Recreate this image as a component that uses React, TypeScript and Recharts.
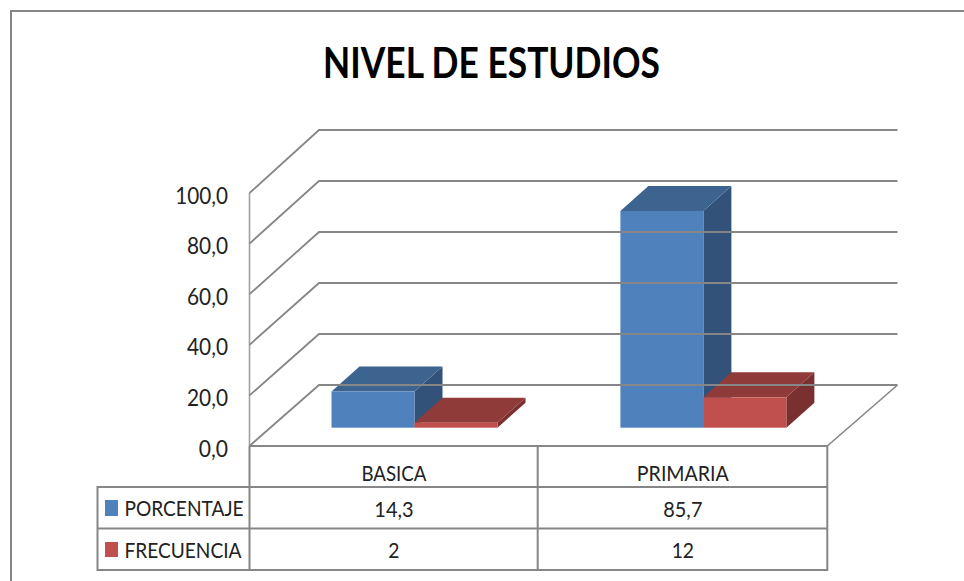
import React from 'react';
import { BarChart, Bar, XAxis, YAxis } from 'recharts';

const title = 'NIVEL DE ESTUDIOS';
const categories = ['BASICA', 'PRIMARIA'];
const categoryWidths = [65, 92];
const porcentaje = [14.3, 85.7];
const frecuencia = [2, 12];
const yTicks = [0, 20, 40, 60, 80, 100];
const seriesNames = ['PORCENTAJE', 'FRECUENCIA'];

const rows = categories.map((c, i) => ({ name: c, porcentaje: porcentaje[i], frecuencia: frecuencia[i] }));

const FONT = 'Lato, "Open Sans", sans-serif';
const GRID = '#868686';
const INK = '#222222';

const LEFT = 249.5, RIGHT = 827.3, TOP = 193, FLOOR = 446;
const WALL_X = 319, WALL_RIGHT = 897.5;
const ROW1 = 487, ROW2 = 528.5, ROW3 = 570, TABLE_LEFT = 97.5, COL_MID = 537.7;

const comma = (v: number) => v.toFixed(1).replace('.', ',');
const numWidth = (s: string, digit: number) =>
  s.includes(',') ? (s.length - 1) * digit + digit / 2 : s.length * digit;

const YTick = (props: any) => {
  const { y, payload } = props;
  const backY = y - 61 - (FLOOR - y) * 0.008;
  const label = comma(payload.value);
  return (
    <g>
      <path d={`M${LEFT} ${y} L${WALL_X} ${backY} L${WALL_RIGHT} ${backY}`} fill="none" stroke={GRID} strokeWidth={1.8} />
      <text x={228} y={y + 10.5} textAnchor="end" fontFamily={FONT} fontSize={23} fill={INK}
        textLength={numWidth(label, 11.7)} lengthAdjust="spacingAndGlyphs">
        {label}
      </text>
    </g>
  );
};

const XTick = (props: any) => {
  const { x, payload } = props;
  const i = categories.indexOf(payload.value);
  const common = { x, textAnchor: 'middle' as const, fontFamily: FONT, fill: INK, lengthAdjust: 'spacingAndGlyphs' as const };
  const a = comma(porcentaje[i]);
  const b = String(frecuencia[i]);
  return (
    <g>
      <text {...common} y={480.5} fontSize={21} textLength={categoryWidths[i]}>{payload.value}</text>
      <text {...common} y={516.5} fontSize={22} textLength={numWidth(a, 11.2)}>{a}</text>
      <text {...common} y={557.5} fontSize={22} textLength={numWidth(b, 11.2)}>{b}</text>
    </g>
  );
};

const box3d = (front: string, top: string, side: string) => (props: any) => {
  const { x, y, width, height } = props;
  const ox = 21, oy = -18.3, dx = 28, dy = 25;
  const l = x + ox, r = l + width, t = y + oy, b = t + height;
  return (
    <g>
      <path d={`M${r} ${t} L${r + dx} ${t - dy} L${r + dx} ${b - dy} L${r} ${b} Z`} fill={side} />
      <path d={`M${l} ${t} L${l + dx} ${t - dy} L${r + dx} ${t - dy} L${r} ${t} Z`} fill={top} />
      <rect x={l} y={t} width={width} height={height} fill={front} />
    </g>
  );
};

const Frame = () => (
  <g fill="none" stroke={GRID}>
    <path d={`M964 11 L11 11 L11 581`} strokeWidth={2} />
    <path d={`M${LEFT} ${TOP} L${LEFT} ${FLOOR}`} strokeWidth={1.6} stroke="#a0a0a0" />
    <path d={`M${RIGHT} ${FLOOR} L${WALL_RIGHT} 385`} strokeWidth={1.6} />
  </g>
);

const Table = () => (
  <g>
    <g fill="none" stroke={GRID} strokeWidth={2}>
      <path d={`M${LEFT} ${FLOOR} L${RIGHT} ${FLOOR} L${RIGHT} ${ROW3} L${TABLE_LEFT} ${ROW3} L${TABLE_LEFT} ${ROW1} L${RIGHT} ${ROW1}`} />
      <path d={`M${TABLE_LEFT} ${ROW2} L${RIGHT} ${ROW2}`} />
      <path d={`M${LEFT} ${FLOOR} L${LEFT} ${ROW3} M${COL_MID} ${FLOOR} L${COL_MID} ${ROW3}`} />
    </g>
    <rect x={105} y={500} width={13} height={16} fill="#4F81BD" />
    <rect x={105} y={542} width={13} height={15} fill="#C0504D" />
    <text x={124.5} y={516} fontFamily={FONT} fontSize={21} fill={INK} textLength={119} lengthAdjust="spacingAndGlyphs">{seriesNames[0]}</text>
    <text x={124.5} y={557.5} fontFamily={FONT} fontSize={21} fill={INK} textLength={117} lengthAdjust="spacingAndGlyphs">{seriesNames[1]}</text>
  </g>
);

export default function App() {
  return (
    <div style={{ position: 'absolute', left: 0, top: 0, width: 964, height: 581, background: '#fff' }}>
      <BarChart
        width={964}
        height={581}
        data={rows}
        margin={{ top: TOP, right: 964 - RIGHT, bottom: 581 - FLOOR - 40, left: 0 }}
        barGap={0}
        barSize={83}
      >
        <Frame />
        <text x={491.5} y={78} textAnchor="middle" fontFamily={FONT} fontWeight={700} fontSize={42} fill="#000" textLength={337} lengthAdjust="spacingAndGlyphs">{title}</text>
        <YAxis width={LEFT} domain={[0, 100]} ticks={yTicks} interval={0} axisLine={false} tickLine={false} tick={<YTick />} />
        <XAxis dataKey="name" height={40} interval={0} axisLine={false} tickLine={false} tick={<XTick />} />
        <Table />
        <Bar dataKey="porcentaje" isAnimationActive={false} shape={box3d('#4F81BD', '#3D648F', '#32527A')} />
        <Bar dataKey="frecuencia" isAnimationActive={false} shape={box3d('#C0504D', '#8F3B39', '#7A302E')} />
      </BarChart>
    </div>
  );
}
